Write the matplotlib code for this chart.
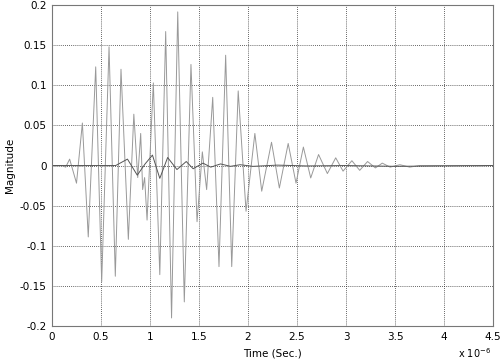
import matplotlib
matplotlib.use("Agg")
import matplotlib.pyplot as plt
import numpy as np

# time in units of 1e-6 s, peaks / troughs
t_big = [0.0, 0.10, 0.14, 0.18, 0.25, 0.31, 0.37, 0.446, 0.507, 0.582, 0.646,
         0.704, 0.779, 0.835, 0.875, 0.905, 0.925, 0.945, 0.97, 1.034, 1.10,
         1.16, 1.22, 1.283, 1.35, 1.418, 1.48, 1.534, 1.578, 1.64, 1.704,
         1.772, 1.834, 1.90, 1.98, 2.07, 2.14, 2.24, 2.32, 2.41, 2.49, 2.565,
         2.64, 2.72, 2.81, 2.895, 2.97, 3.06, 3.14, 3.22, 3.30, 3.37, 3.45,
         3.55, 3.65, 3.75, 4.5]
v_big = [0.0, 0.0, -0.002, 0.008, -0.022, 0.053, -0.089, 0.123, -0.145, 0.148,
         -0.138, 0.12, -0.092, 0.064, -0.015, 0.04, -0.03, -0.015, -0.068,
         0.103, -0.136, 0.167, -0.19, 0.1915, -0.17, 0.126, -0.07, 0.017,
         -0.03, 0.085, -0.126, 0.1375, -0.126, 0.093, -0.057, 0.04, -0.032,
         0.029, -0.028, 0.0275, -0.022, 0.023, -0.0155, 0.0137, -0.01, 0.0096,
         -0.007, 0.006, -0.006, 0.005, -0.003, 0.003, -0.002, 0.001, -0.002,
         0.0, 0.0]

t_small = [0.0, 0.65, 0.77, 0.87, 0.95, 1.025, 1.10, 1.18, 1.275, 1.37, 1.44,
           1.54, 1.62, 1.72, 1.82, 1.92, 2.05, 2.3, 2.6, 3.0, 3.5, 4.5]
v_small = [0.0, 0.0, 0.008, -0.012, 0.002, 0.013, -0.016, 0.01, -0.005, 0.005,
           -0.004, 0.003, -0.002, 0.002, -0.001, 0.001, -0.001, 0.0005,
           -0.0005, 0.0, -0.001, 0.0]

fig = plt.figure(figsize=(5, 3.63), dpi=100)
ax = fig.add_axes([0.104, 0.102, 0.882, 0.884])

ax.plot(t_big, v_big, color="#999999", lw=0.7)
ax.plot(t_small, v_small, color="#555555", lw=0.7)

ax.set_xlim(0, 4.5)
ax.set_ylim(-0.2, 0.2)
ax.set_xticks(np.arange(0, 4.51, 0.5))
ax.set_xticklabels(["0", "0.5", "1", "1.5", "2", "2.5", "3", "3.5", "4", "4.5"])
ax.set_yticks(np.arange(-0.2, 0.201, 0.05))
ax.set_yticklabels(["-0.2", "-0.15", "-0.1", "-0.05", "0", "0.05", "0.1", "0.15", "0.2"])
ax.grid(True, color="#333333", linestyle=(0, (1, 1.5)), lw=0.6)
ax.tick_params(labelsize=7.5, length=0, pad=4)
for s in ax.spines.values():
    s.set_color("#777777")
    s.set_linewidth(0.8)

ax.set_xlabel("Time (Sec.)", fontsize=7.5, labelpad=5)
ax.set_ylabel("Magnitude", fontsize=7.5, labelpad=3)
fig.text(0.915, 0.015, "x 10$^{-6}$", fontsize=7)

fig.savefig("out.png", dpi=100)
